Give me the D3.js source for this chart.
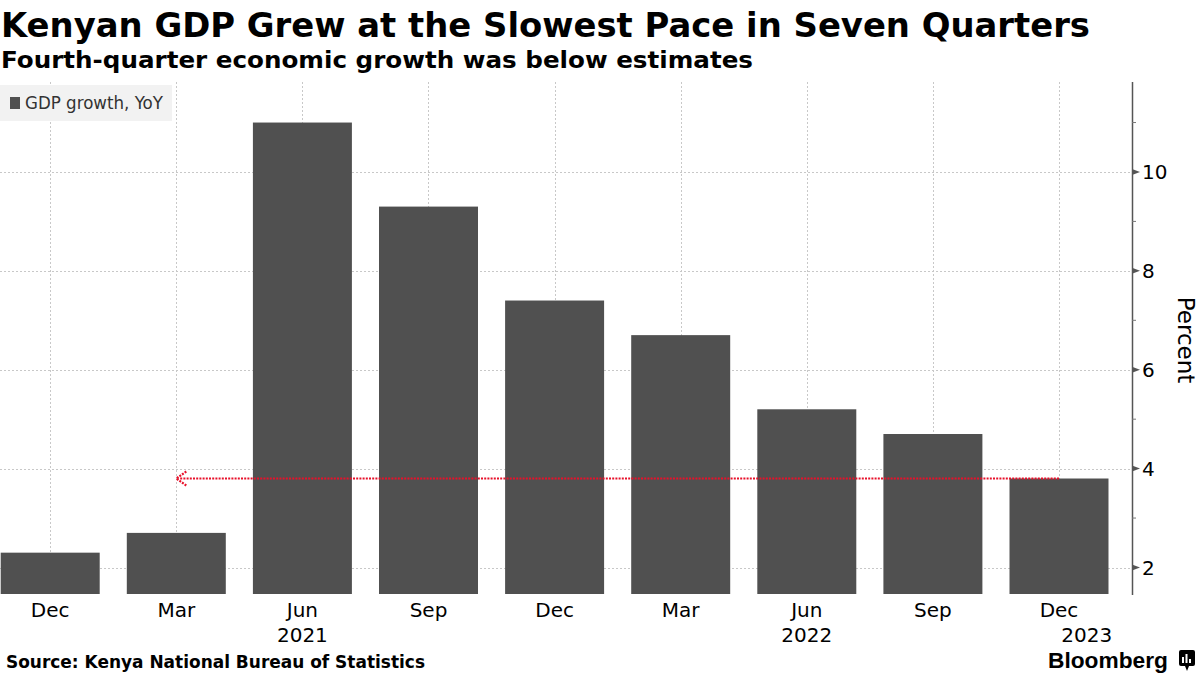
<!DOCTYPE html>
<html><head><meta charset="utf-8">
<script src="https://cdn.jsdelivr.net/npm/d3@7"></script>
<style>body{margin:0;background:#fff}svg{display:block}</style>
</head><body>
<svg id="c" width="1200" height="675"></svg>
<script>
const categories = ["Dec","Mar","Jun","Sep","Dec","Mar","Jun","Sep","Dec"];
const gdpGrowth = [2.3, 2.7, 11.0, 9.3, 7.4, 6.7, 5.2, 4.7, 3.8];
const yearLabels = [{i:2, text:"2021"},{i:6, text:"2022"},{i:8.22, text:"2023"}];
const yTicks = [2,4,6,8,10];
const yMinor = [3,5,7,9,11];
const arrowFrom = 8, arrowTo = 1, arrowValue = 3.8;

(function(){
const svg = d3.select("#c");
const pLeft = -12.85, pRight = 1122.05, pTop = 82, pBottom = 594, axisX = 1132;

const x = d3.scaleBand().domain(d3.range(categories.length)).range([pLeft, pRight]).paddingInner(0.215).paddingOuter(0.1075);
const y = d3.scaleLinear().domain([1.464, 11.82]).range([pBottom, pTop]);
const cx = i => x(Math.floor(i)) + x.bandwidth()/2 + (i % 1) * x.step();

function squeeze(sel, width){
  sel.attr("textLength", width).attr("lengthAdjust","spacingAndGlyphs");
}

// title & subtitle
const title = svg.append("text").attr("x",1).attr("y",37).attr("font-family","DejaVu Sans").attr("font-weight","bold").attr("font-size",34).attr("fill","#000").text("Kenyan GDP Grew at the Slowest Pace in Seven Quarters");
squeeze(title, 1089);
const sub = svg.append("text").attr("x",1).attr("y",68).attr("font-family","DejaVu Sans").attr("font-weight","bold").attr("font-size",23).attr("fill","#000").text("Fourth-quarter economic growth was below estimates");
squeeze(sub, 752);

// gridlines
const g = svg.append("g");
g.selectAll("line.hg").data(yTicks).join("line")
  .attr("x1",0).attr("x2",axisX).attr("y1",d=>Math.round(y(d))+0.5).attr("y2",d=>Math.round(y(d))+0.5)
  .attr("stroke","#c8c8c8").attr("stroke-width",1).attr("stroke-dasharray","2,2");
g.selectAll("line.vg").data(categories.map((d,i)=>i)).join("line")
  .attr("x1",i=>Math.round(cx(i))+0.5).attr("x2",i=>Math.round(cx(i))+0.5).attr("y1",pTop).attr("y2",pBottom)
  .attr("stroke","#c8c8c8").attr("stroke-width",1).attr("stroke-dasharray","2,2");

// legend
svg.append("rect").attr("x",0).attr("y",85).attr("width",172).attr("height",36).attr("fill","#f2f2f2");
svg.append("rect").attr("x",10).attr("y",97).attr("width",10).attr("height",12).attr("fill","#505050");
const lg = svg.append("text").attr("x",25).attr("y",109).attr("font-family","DejaVu Sans").attr("font-size",17).attr("fill","#333").text("GDP growth, YoY");
squeeze(lg, 138);

// bars
svg.append("g").selectAll("rect").data(gdpGrowth).join("rect")
  .attr("x",(d,i)=>x(i)).attr("width",x.bandwidth())
  .attr("y",d=>y(d)).attr("height",d=>pBottom - y(d)).attr("fill","#505050");

// red arrow
const ay = y(arrowValue);
svg.append("line").attr("x1",cx(arrowFrom)).attr("x2",cx(arrowTo)+2).attr("y1",ay).attr("y2",ay)
  .attr("stroke","#e8102a").attr("stroke-width",2.2).attr("stroke-dasharray","2,1.2");
svg.append("path").attr("d",`M${cx(arrowTo)+10},${ay-7}L${cx(arrowTo)},${ay}L${cx(arrowTo)+10},${ay+7}`)
  .attr("fill","none").attr("stroke","#e8102a").attr("stroke-width",2.2).attr("stroke-dasharray","2,1.2");

// y axis
svg.append("line").attr("x1",axisX+0.5).attr("x2",axisX+0.5).attr("y1",pTop).attr("y2",pBottom+1).attr("stroke","#555").attr("stroke-width",1.5);
svg.selectAll("path.tk").data(yTicks).join("path")
  .attr("d",d=>`M${axisX},${y(d)-3}L${axisX+8},${y(d)}L${axisX},${y(d)+3}Z`).attr("fill","#555");
svg.selectAll("line.mn").data(yMinor).join("line")
  .attr("x1",axisX).attr("x2",axisX+4).attr("y1",d=>y(d)).attr("y2",d=>y(d)).attr("stroke","#777");
svg.selectAll("text.yl").data(yTicks).join("text")
  .attr("x",axisX+10).attr("y",d=>y(d)+7).attr("font-family","DejaVu Sans").attr("font-size",20).attr("fill","#000").text(d=>d);
svg.append("text").attr("transform",`translate(1178,340) rotate(90)`).attr("text-anchor","middle")
  .attr("font-family","DejaVu Sans").attr("font-size",23).attr("fill","#000").text("Percent");

// x labels
svg.selectAll("text.xl").data(categories).join("text")
  .attr("x",(d,i)=>cx(i)).attr("y",617).attr("text-anchor","middle")
  .attr("font-family","DejaVu Sans").attr("font-size",20).attr("fill","#000").text(d=>d);
svg.selectAll("text.yr").data(yearLabels).join("text")
  .attr("x",d=>cx(d.i)).attr("y",642).attr("text-anchor","middle")
  .attr("font-family","DejaVu Sans").attr("font-size",20).attr("fill","#000").text(d=>d.text);

// footer
const src = svg.append("text").attr("x",6).attr("y",668).attr("font-family","DejaVu Sans").attr("font-weight","bold").attr("font-size",17.5).attr("fill","#000").text("Source: Kenya National Bureau of Statistics");
squeeze(src, 419);
const bb = svg.append("text").attr("x",1048).attr("y",668).attr("font-family","Liberation Sans, Arial").attr("font-weight","bold").attr("font-size",22).attr("fill","#000").text("Bloomberg");
squeeze(bb, 120);
svg.append("rect").attr("x",1179).attr("y",650).attr("width",16).attr("height",16).attr("rx",2).attr("fill","#000");
svg.append("path").attr("d","M1185,666L1187,671L1189,666Z").attr("fill","#000");
[[1182,657,2,6],[1185.5,654,2,9],[1189,659,2,4]].forEach(r=>svg.append("rect").attr("x",r[0]).attr("y",r[1]).attr("width",r[2]).attr("height",r[3]).attr("fill","#fff"));
})();
</script>
</body></html>
